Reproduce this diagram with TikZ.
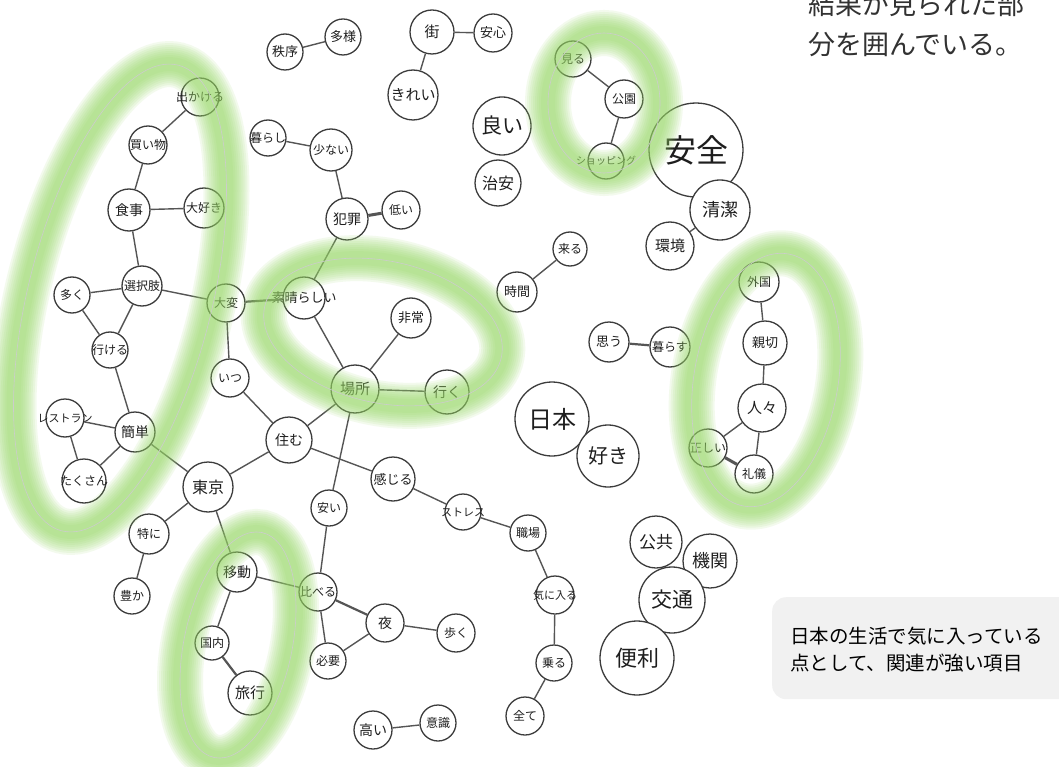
\documentclass[tikz,border=0pt]{standalone}
\usepackage{fontspec}
\setmainfont{Noto Sans CJK JP}
\definecolor{ndline}{RGB}{60,60,60}
\definecolor{edline}{RGB}{85,85,85}
\definecolor{ndtext}{RGB}{30,30,30}
\definecolor{glowc}{RGB}{150,215,100}
\definecolor{boxfill}{RGB}{241,241,241}
\tikzset{
  nd/.style={circle, draw=ndline, fill=white, line width=1.3pt, inner sep=0pt, text=ndtext},
  ed/.style={draw=edline, line width=1.4pt},
  edthick/.style={draw=edline, line width=3pt},
  edmid/.style={draw=edline, line width=2.2pt},
  glowline/.style={draw=gray!40, line width=0.6pt},
}
\newcommand\nd[6]{\node[nd, minimum size=2*#4pt, font={\fontsize{#5}{#5}\selectfont}] (#1) at (#2,#3) {\makebox[0pt]{#6}};}
\newcommand\glowell[5]{%
  \foreach \w in {46,42,38,34,30,26,22,18,14} {\draw[glowc, opacity=0.11, line width=\w pt, shift={(#1,#2)}, rotate=#3] (0,0) ellipse [x radius=#4, y radius=#5];}
  \draw[glowline, shift={(#1,#2)}, rotate=#3] (0,0) ellipse [x radius=#4, y radius=#5];
}
\begin{document}
\begin{tikzpicture}[x=1pt,y=-1pt]
\useasboundingbox (0,0) rectangle (1059,767);
\fill[white] (0,0) rectangle (1059,767);
% nodes
\nd{chitsujo}{285}{52}{18}{13}{秩序}
\nd{tayou}{343}{37}{18}{13}{多様}
\nd{machi}{432}{32}{22}{15}{街}
\nd{anshin}{493}{33}{19}{13}{安心}
\nd{kirei}{413}{95}{25}{15}{きれい}
\nd{dekakeru}{200}{97}{19}{12}{出かける}
\nd{kaimono}{148}{145}{19}{12}{買い物}
\nd{kurashi}{268}{138}{18}{12}{暮らし}
\nd{sukunai}{331}{150}{21}{12}{少ない}
\nd{shokuji}{129}{210}{21}{14}{食事}
\nd{daisuki}{204}{208}{20}{12}{大好き}
\nd{hanzai}{347}{219}{21}{14}{犯罪}
\nd{hikui}{401}{210}{19}{12}{低い}
\nd{yoi}{502}{126}{29}{21}{良い}
\nd{chian}{498}{183}{23}{16}{治安}
\nd{miru}{573}{59}{18}{12}{見る}
\nd{kouen}{624}{99}{19}{12}{公園}
\nd{shopping}{606}{161}{18}{10}{ショッピング}
\nd{anzen}{696}{150}{47}{32}{安全}
\nd{seiketsu}{720}{210}{30}{18}{清潔}
\nd{kankyou}{670}{246}{24}{15}{環境}
\nd{kuru}{570}{249}{17}{12}{来る}
\nd{jikan}{517}{292}{20}{13}{時間}
\nd{ooku}{72}{295}{18}{12}{多く}
\nd{sentakushi}{142}{286}{20}{12}{選択肢}
\nd{taihen}{226}{303}{19}{12}{大変}
\nd{subarashii}{304}{298}{21}{13}{素晴らしい}
\nd{hijou}{411}{318}{20}{13}{非常}
\nd{ikeru}{110}{350}{18}{12}{行ける}
\nd{itsu}{230}{378}{19}{12}{いつ}
\nd{basho}{355}{389}{24}{15}{場所}
\nd{iku}{447}{392}{22}{14}{行く}
\nd{omou}{609}{342}{20}{13}{思う}
\nd{kurasu}{670}{347}{20}{12}{暮らす}
\nd{gaikoku}{759}{282}{20}{12}{外国}
\nd{shinsetsu}{765}{343}{22}{13}{親切}
\nd{hitobito}{762}{408}{24}{15}{人々}
\nd{tadashii}{708}{448}{19}{12}{正しい}
\nd{reigi}{754}{474}{19}{12}{礼儀}
\nd{restaurant}{65}{418}{19}{11}{レストラン}
\nd{kantan}{135}{432}{20}{14}{簡単}
\nd{takusan}{84}{481}{22}{12}{たくさん}
\nd{sumu}{289}{440}{23}{14}{住む}
\nd{toukyou}{208}{487}{25}{16}{東京}
\nd{nihon}{552}{419}{37}{24}{日本}
\nd{suki}{608}{456}{31}{20}{好き}
\nd{kanjiru}{393}{479}{22}{13}{感じる}
\nd{yasui}{329}{508}{18}{12}{安い}
\nd{stress}{463}{512}{18}{11}{ストレス}
\nd{shokuba}{528}{533}{18}{12}{職場}
\nd{tokuni}{149}{534}{20}{12}{特に}
\nd{idou}{237}{572}{20}{14}{移動}
\nd{kuraberu}{318}{592}{19}{12}{比べる}
\nd{yutaka}{132}{596}{18}{12}{豊か}
\nd{yoru}{385}{623}{19}{14}{夜}
\nd{aruku}{456}{633}{19}{12}{歩く}
\nd{kiniiru}{555}{595}{19}{11}{気に入る}
\nd{kokunai}{212}{643}{17}{12}{国内}
\nd{hitsuyou}{328}{661}{18}{12}{必要}
\nd{ryokou}{250}{693}{22}{15}{旅行}
\nd{noru}{554}{663}{18}{12}{乗る}
\nd{takai}{373}{730}{19}{14}{高い}
\nd{ishiki}{438}{723}{18}{12}{意識}
\nd{subete}{525}{716}{19}{12}{全て}
\nd{koukyou}{656}{542}{26}{17}{公共}
\nd{kikan}{710}{561}{27}{18}{機関}
\nd{koutsuu}{672}{600}{33}{21}{交通}
\nd{benri}{637}{658}{37}{22}{便利}
% edges
\foreach \a/\b in {chitsujo/tayou, machi/anshin, machi/kirei, dekakeru/kaimono, kaimono/shokuji, shokuji/daisuki, shokuji/sentakushi, kurashi/sukunai, sukunai/hanzai, hanzai/subarashii, miru/kouen, kouen/shopping, kuru/jikan, seiketsu/kankyou, ooku/sentakushi, ooku/ikeru, sentakushi/ikeru, sentakushi/taihen, taihen/itsu, subarashii/basho, hijou/basho, basho/iku, basho/sumu, basho/yasui, ikeru/kantan, restaurant/kantan, restaurant/takusan, kantan/takusan, kantan/toukyou, itsu/sumu, sumu/toukyou, sumu/kanjiru, kanjiru/stress, stress/shokuba, shokuba/kiniiru, kiniiru/noru, noru/subete, toukyou/tokuni, tokuni/yutaka, toukyou/idou, idou/kuraberu, idou/kokunai, yasui/kuraberu, kuraberu/hitsuyou, hitsuyou/yoru, yoru/aruku, takai/ishiki, gaikoku/shinsetsu, shinsetsu/hitobito, hitobito/tadashii, hitobito/reigi}
  {\draw[ed] (\a) -- (\b);}
\draw[edthick] (hanzai) -- (hikui);
\draw[edthick] (tadashii) -- (reigi);
\draw[edmid] (omou) -- (kurasu);
\draw[edmid] (kokunai) -- (ryokou);
\draw[edmid] (taihen) -- (subarashii);
\draw[edmid] (kuraberu) -- (yoru);
% highlight glows
\glowell{120}{298}{76}{240}{92}
\glowell{604}{103}{0}{56}{70}
\glowell{383}{332}{-12}{121}{71}
\glowell{766}{380}{80}{128}{72}
\glowell{238}{645}{78}{115}{54}
% top-right text
\node[anchor=west, inner sep=0pt, text={rgb,255:red,50;green,50;blue,50}, font={\fontsize{27}{27}\selectfont}] (t1) at (808,4) {結果が見られた部};
\node[anchor=west, inner sep=0pt, text={rgb,255:red,50;green,50;blue,50}, font={\fontsize{27}{27}\selectfont}] (t2) at (808,45) {分を囲んでいる。};
% callout
\node[fill=boxfill, rounded corners=14pt, anchor=north west, minimum width=310pt, minimum height=102pt, inner sep=0pt] (callout) at (772,597) {};
\node[anchor=west, inner sep=0pt, text=black, font={\fontsize{19.5}{19.5}\selectfont}] (c1) at (790,636) {日本の生活で気に入っている};
\node[anchor=west, inner sep=0pt, text=black, font={\fontsize{19.5}{19.5}\selectfont}] (c2) at (790,663) {点として、関連が強い項目};
\end{tikzpicture}
\end{document}
